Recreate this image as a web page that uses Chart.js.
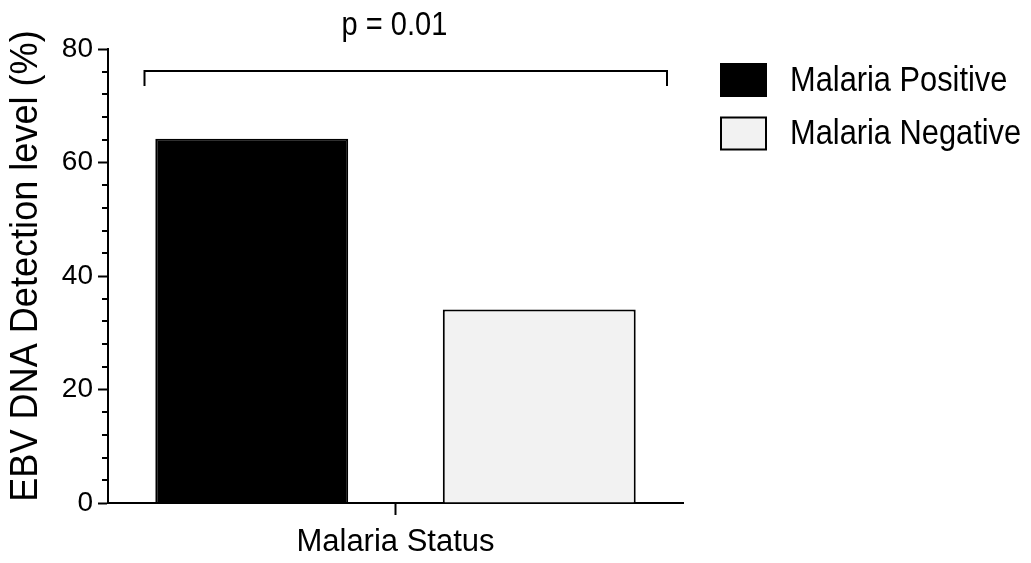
<!DOCTYPE html>
<html>
<head>
<meta charset="utf-8">
<script src="https://cdn.jsdelivr.net/npm/chart.js@4.4.1/dist/chart.umd.min.js"></script>
<style>
  html, body { margin: 0; padding: 0; background: #fff; }
  #wrap { width: 1031px; height: 563px; }
</style>
</head>
<body>
<div id="wrap"><canvas id="grafico" width="1031" height="563"></canvas></div>
<script>
// data
const categories = ['Malaria Status'];
const seriesLabels = ['Malaria Positive', 'Malaria Negative'];
const positiveValues = [64.2];
const negativeValues = [34.1];
const yTicks = [0, 20, 40, 60, 80];
const yTitle = 'EBV DNA Detection level (%)';
const pValueText = 'p = 0.01';
const bracketValues = [76.2, 73.5]; // bar of the bracket, end of the legs

const FONT = "'Liberation Sans', Arial, sans-serif";
const fills = ['#000000', '#f2f2f2'];

// the picture's text is a bit condensed, so squeeze it horizontally
function squeezedText(ctx, text, x, y, size, squeeze, align) {
  ctx.save();
  ctx.font = size + 'px ' + FONT;
  ctx.textAlign = align;
  ctx.translate(x, y);
  ctx.scale(squeeze, 1);
  ctx.fillText(text, 0, 0);
  ctx.restore();
}

const extras = {
  id: 'extras',
  afterDraw(chart) {
    const ctx = chart.ctx;
    const y = chart.scales.y;
    const x = chart.scales.x;
    const area = chart.chartArea;
    ctx.save();
    ctx.strokeStyle = '#000';
    ctx.fillStyle = '#000';
    ctx.lineWidth = 2;

    // minor ticks on y axis
    y.ticks.forEach(t => {
      if (yTicks.includes(t.value)) return;
      const py = Math.round(y.getPixelForValue(t.value));
      ctx.beginPath();
      ctx.moveTo(area.left - 6, py);
      ctx.lineTo(area.left, py);
      ctx.stroke();
    });

    // y title
    ctx.save();
    ctx.translate(27, 266);
    ctx.rotate(-Math.PI / 2);
    ctx.textBaseline = 'middle';
    squeezedText(ctx, yTitle, 0, 0, 38, 0.95, 'center');
    ctx.restore();

    // significance bracket
    const bx1 = area.left + 36.5;
    const bx2 = area.right - 16;
    const by = Math.round(y.getPixelForValue(bracketValues[0]));
    const byEnd = y.getPixelForValue(bracketValues[1]);
    ctx.beginPath();
    ctx.moveTo(bx1, byEnd);
    ctx.lineTo(bx1, by);
    ctx.lineTo(bx2, by);
    ctx.lineTo(bx2, byEnd);
    ctx.stroke();

    ctx.textBaseline = 'alphabetic';
    squeezedText(ctx, pValueText, x.getPixelForValue(0) - 1, 35, 33, 0.88, 'center');

    // legend
    ctx.textBaseline = 'middle';
    seriesLabels.forEach((lab, i) => {
      const top = 64 + i * 53.5;
      ctx.fillStyle = fills[i];
      ctx.fillRect(721, top, 45, 32);
      ctx.strokeStyle = '#000';
      ctx.strokeRect(721, top, 45, 32);
      ctx.fillStyle = '#000';
      squeezedText(ctx, lab, 790, top + 17, 35, 0.88, 'left');
    });
    ctx.restore();
  }
};

new Chart(document.getElementById('grafico'), {
  type: 'bar',
  data: {
    labels: categories,
    datasets: [
      { label: seriesLabels[0], data: positiveValues, backgroundColor: fills[0], borderColor: '#000', borderWidth: 2 },
      { label: seriesLabels[1], data: negativeValues, backgroundColor: fills[1], borderColor: '#000', borderWidth: 2 }
    ]
  },
  options: {
    responsive: false,
    animation: false,
    categoryPercentage: 1,
    barPercentage: 0.671,
    layout: { padding: { left: 0, top: 49, right: 348, bottom: 0 } },
    plugins: { legend: { display: false }, tooltip: { enabled: false } },
    scales: {
      x: {
        afterFit(s) { s.height = 60; },
        border: { color: '#000', width: 2 },
        grid: { offset: false, drawOnChartArea: false, tickLength: 12, tickColor: '#000', tickWidth: 2 },
        ticks: { color: '#000', font: { family: FONT, size: 31 }, padding: 9 }
      },
      y: {
        min: 0,
        max: 80,
        afterFit(s) { s.width = 108; },
        border: { color: '#000', width: 2 },
        grid: {
          drawOnChartArea: false,
          tickLength: 10,
          tickWidth: 2,
          tickColor: c => yTicks.includes(c.tick.value) ? '#000' : 'rgba(0,0,0,0)'
        },
        ticks: {
          stepSize: 4,
          autoSkip: false,
          color: '#000',
          padding: 5,
          font: { family: FONT, size: 28 },
          callback: v => yTicks.includes(v) ? v : ''
        }
      }
    }
  },
  plugins: [extras]
});
</script>
</body>
</html>
